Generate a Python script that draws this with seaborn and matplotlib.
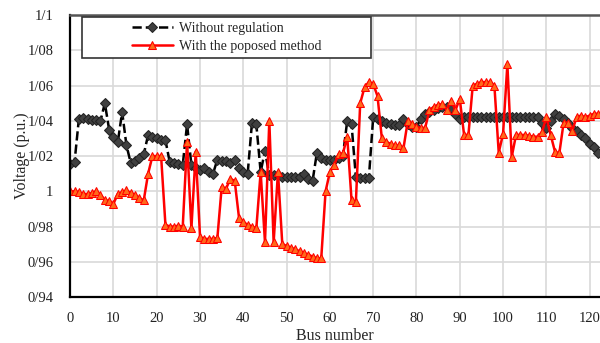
import numpy as np
import pandas as pd
import seaborn as sns
import matplotlib.pyplot as plt
from matplotlib.patches import Rectangle

# Datos (bus 0..122)
without_reg = [
    1.0155, 1.0165, 1.041, 1.0415, 1.041, 1.0405, 1.0405, 1.040, 1.050, 1.035,
    1.031, 1.028, 1.045, 1.026, 1.016, 1.017, 1.019, 1.021, 1.032, 1.031,
    1.030, 1.029, 1.029, 1.0165, 1.016, 1.0155, 1.015, 1.038, 1.015, 1.013,
    1.012, 1.013, 1.011, 1.010, 1.018, 1.017, 1.017, 1.016, 1.018, 1.013,
    1.011, 1.010, 1.039, 1.038, 1.011, 1.023, 1.009, 1.009, 1.009, 1.008,
    1.008, 1.008, 1.008, 1.008, 1.010, 1.007, 1.006, 1.022, 1.019, 1.018,
    1.018, 1.018, 1.019, 1.020, 1.040, 1.038, 1.008, 1.0075, 1.0075, 1.0075,
    1.042, 1.041, 1.040, 1.039, 1.038, 1.0375, 1.0375, 1.041, 1.038, 1.0365,
    1.0365, 1.041, 1.044, 1.045, 1.046, 1.047, 1.048, 1.048, 1.047, 1.044,
    1.041, 1.042, 1.042, 1.042, 1.042, 1.042, 1.042, 1.042, 1.042, 1.042,
    1.042, 1.042, 1.042, 1.042, 1.042, 1.042, 1.042, 1.042, 1.042, 1.039,
    1.036, 1.040, 1.044, 1.043, 1.041, 1.039, 1.036, 1.034, 1.032, 1.030,
    1.027, 1.025, 1.022,
]
with_method = [
    1.000, 1.000, 0.9995, 0.9985, 0.9985, 0.999, 1.000, 0.998, 0.995, 0.9945,
    0.993, 0.9985, 0.9995, 1.0005, 0.999, 0.998, 0.996, 0.995, 1.010, 1.020,
    1.020, 1.020, 0.981, 0.980, 0.980, 0.9805, 0.980, 1.028, 0.979, 1.0225,
    0.974, 0.973, 0.973, 0.973, 0.9735, 1.0025, 1.0015, 1.007, 1.006, 0.985,
    0.9825, 0.981, 0.980, 0.979, 1.011, 0.971, 1.040, 0.971, 1.011, 0.970,
    0.969, 0.968, 0.967, 0.966, 0.965, 0.964, 0.963, 0.962, 0.962, 1.000,
    1.011, 1.015, 1.021, 1.0215, 1.031, 0.995, 0.994, 1.050, 1.059, 1.062,
    1.061, 1.054, 1.030, 1.028, 1.027, 1.026, 1.026, 1.0245, 1.040, 1.038,
    1.0365, 1.036, 1.036, 1.046, 1.048, 1.049, 1.0495, 1.046, 1.0515, 1.046,
    1.0525, 1.032, 1.032, 1.060, 1.061, 1.062, 1.062, 1.062, 1.060, 1.022,
    1.0325, 1.072, 1.0195, 1.032, 1.032, 1.032, 1.0315, 1.031, 1.031, 1.0335,
    1.042, 1.032, 1.0225, 1.0215, 1.039, 1.039, 1.0345, 1.042, 1.043, 1.042,
    1.043, 1.044, 1.044,
]
bus = np.arange(len(without_reg))

y_ticks = [0.94, 0.96, 0.98, 1.00, 1.02, 1.04, 1.06, 1.08, 1.10]
y_labels = ["0/94", "0/96", "0/98", "1", "1/02", "1/04", "1/06", "1/08", "1/1"]
x_ticks = list(range(0, 121, 10))

df = pd.DataFrame({"bus": bus, "without": without_reg, "with": with_method})

# Estilo
sns.set_style("whitegrid", {"grid.color": "#d9d9d9"})
plt.rcParams["font.family"] = ["Liberation Serif", "DejaVu Serif"]

fig = plt.figure(figsize=(6, 3.43), dpi=100)
ax = fig.add_axes([0.117, 0.134, 0.883, 0.822])

sns.lineplot(data=df, x="bus", y="without", ax=ax, color="black",
             linestyle="--", linewidth=1.8, marker="D", markersize=5.3,
             markerfacecolor="#404040", markeredgecolor="#222222",
             label="Without regulation")
sns.lineplot(data=df, x="bus", y="with", ax=ax, color="red",
             linestyle="-", linewidth=1.8, marker="^", markersize=5.8,
             markerfacecolor="#ff6a1a", markeredgecolor="red",
             label="With the poposed method")

ax.set_xlim(0, 122.4)
ax.set_ylim(0.94, 1.10)
ax.set_xticks(x_ticks)
ax.set_yticks(y_ticks)
ax.set_yticklabels(y_labels)
ax.tick_params(length=0, labelsize=10.5, labelcolor="#222222")
ax.tick_params(axis="x", pad=11)
ax.tick_params(axis="y", pad=12)
ax.grid(True, color="#d9d9d9", linewidth=1.2)
ax.set_xlabel("Bus number", fontsize=11.5, labelpad=2)
ax.set_ylabel("Voltage (p.u.)", fontsize=11.5, labelpad=-1.5)

for side in ["left", "bottom"]:
    ax.spines[side].set_color("black")
    ax.spines[side].set_linewidth(1.6)
ax.spines["top"].set_color("#555555")
ax.spines["top"].set_linewidth(1.8)
ax.spines["right"].set_visible(False)

# Leyenda con caja propia
ax.add_patch(Rectangle((0.0226, 0.848), 0.545, 0.145, transform=ax.transAxes,
                       facecolor="white", edgecolor="#333333", linewidth=1.2,
                       zorder=5))
leg = ax.legend(loc="center", bbox_to_anchor=(0.295, 0.920), frameon=False,
                fontsize=10, handlelength=3.0, handletextpad=0.4,
                labelspacing=0.35, borderpad=0.2)
leg.set_zorder(6)

fig.savefig("out.png", dpi=100)
